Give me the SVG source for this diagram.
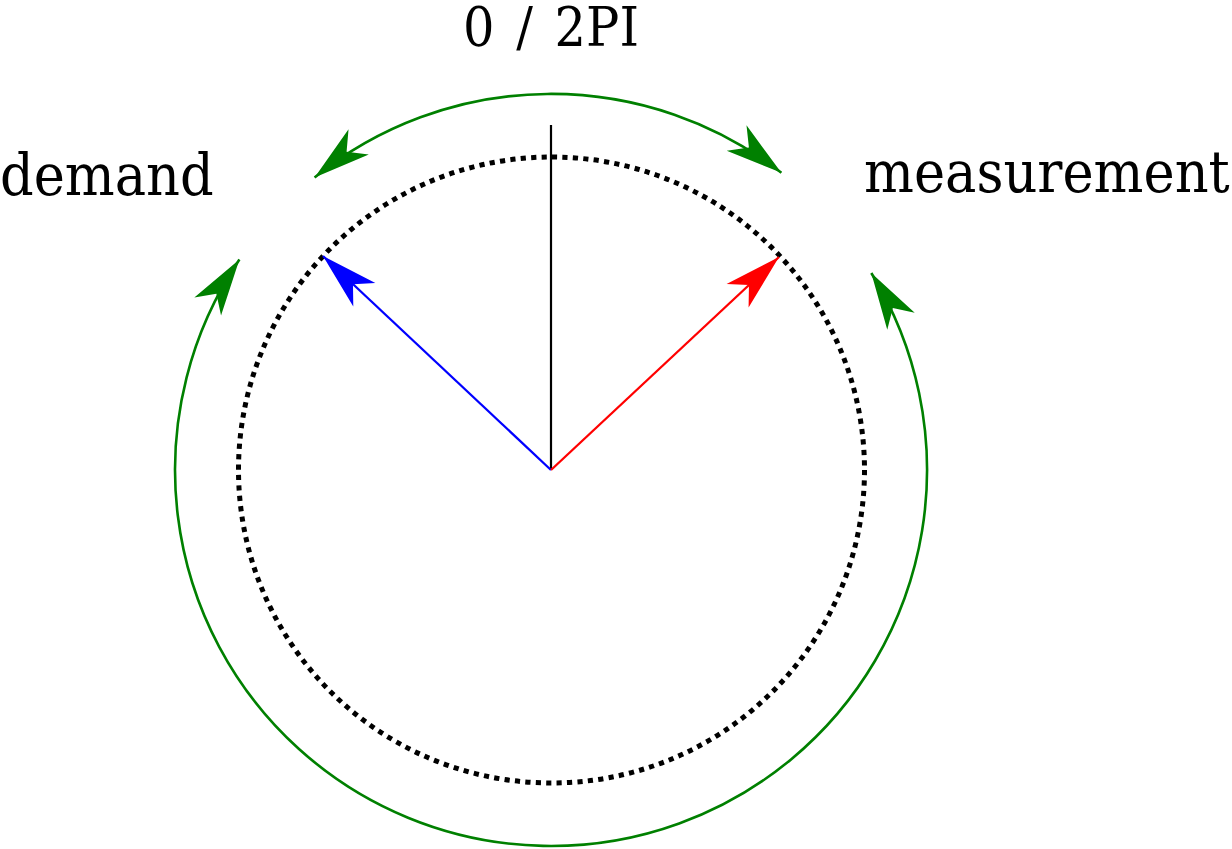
<svg xmlns="http://www.w3.org/2000/svg" width="1232" height="849" viewBox="0 0 1232 849">
<style>
.lbl{font-family:'DejaVu Serif Condensed','DejaVu Serif',serif;font-stretch:condensed;font-size:58.5px;fill:#000}
.g{fill:none;stroke:#008000;stroke-width:2.6}
</style>
<defs>
<marker id="ag" markerUnits="userSpaceOnUse" orient="auto-start-reverse" markerWidth="60" markerHeight="40" viewBox="-52 -16 54 32" refX="0" refY="0" overflow="visible">
<path d="M0,0 L-51,-14.5 L-37,0 L-51,14.5 Z" fill="#008000"/>
</marker>
<marker id="ab" markerUnits="userSpaceOnUse" orient="auto" markerWidth="60" markerHeight="40" viewBox="-52 -16 54 32" refX="0" refY="0" overflow="visible">
<path d="M0,0 L-51,-14.5 L-37,0 L-51,14.5 Z" fill="#0000ff"/>
</marker>
<marker id="ar" markerUnits="userSpaceOnUse" orient="auto" markerWidth="60" markerHeight="40" viewBox="-52 -16 54 32" refX="0" refY="0" overflow="visible">
<path d="M0,0 L-51,-14.5 L-37,0 L-51,14.5 Z" fill="#ff0000"/>
</marker>
</defs>
<rect width="1232" height="849" fill="#fff"/>
<g id="circle">
<circle cx="551.5" cy="470" r="313" fill="none" stroke="#000" stroke-width="5" stroke-dasharray="5.2 5.26"/>
</g>
<g id="connectors">
<line x1="551" y1="125" x2="551" y2="470" stroke="#000" stroke-width="2.2"/>
<line x1="551" y1="470" x2="323" y2="256" stroke="#0000ff" stroke-width="2.3" marker-end="url(#ab)"/>
<line x1="551" y1="470" x2="779" y2="257" stroke="#ff0000" stroke-width="2.3" marker-end="url(#ar)"/>
<path class="g" d="M314.6,177.5 A376,376 0 0 1 781.4,172.8" marker-start="url(#ag)" marker-end="url(#ag)"/>
<path class="g" d="M239.4,259.6 A376,376 0 1 0 871.3,273" marker-start="url(#ag)" marker-end="url(#ag)"/>
</g>
<g id="label-top"><text class="lbl" x="551" y="46" text-anchor="middle" style="font-size:55px;word-spacing:6px">0 / 2PI</text></g>
<g id="label-demand"><text class="lbl" x="0" y="195">demand</text></g>
<g id="label-measurement"><text class="lbl" x="864" y="192">measurement</text></g>
</svg>
